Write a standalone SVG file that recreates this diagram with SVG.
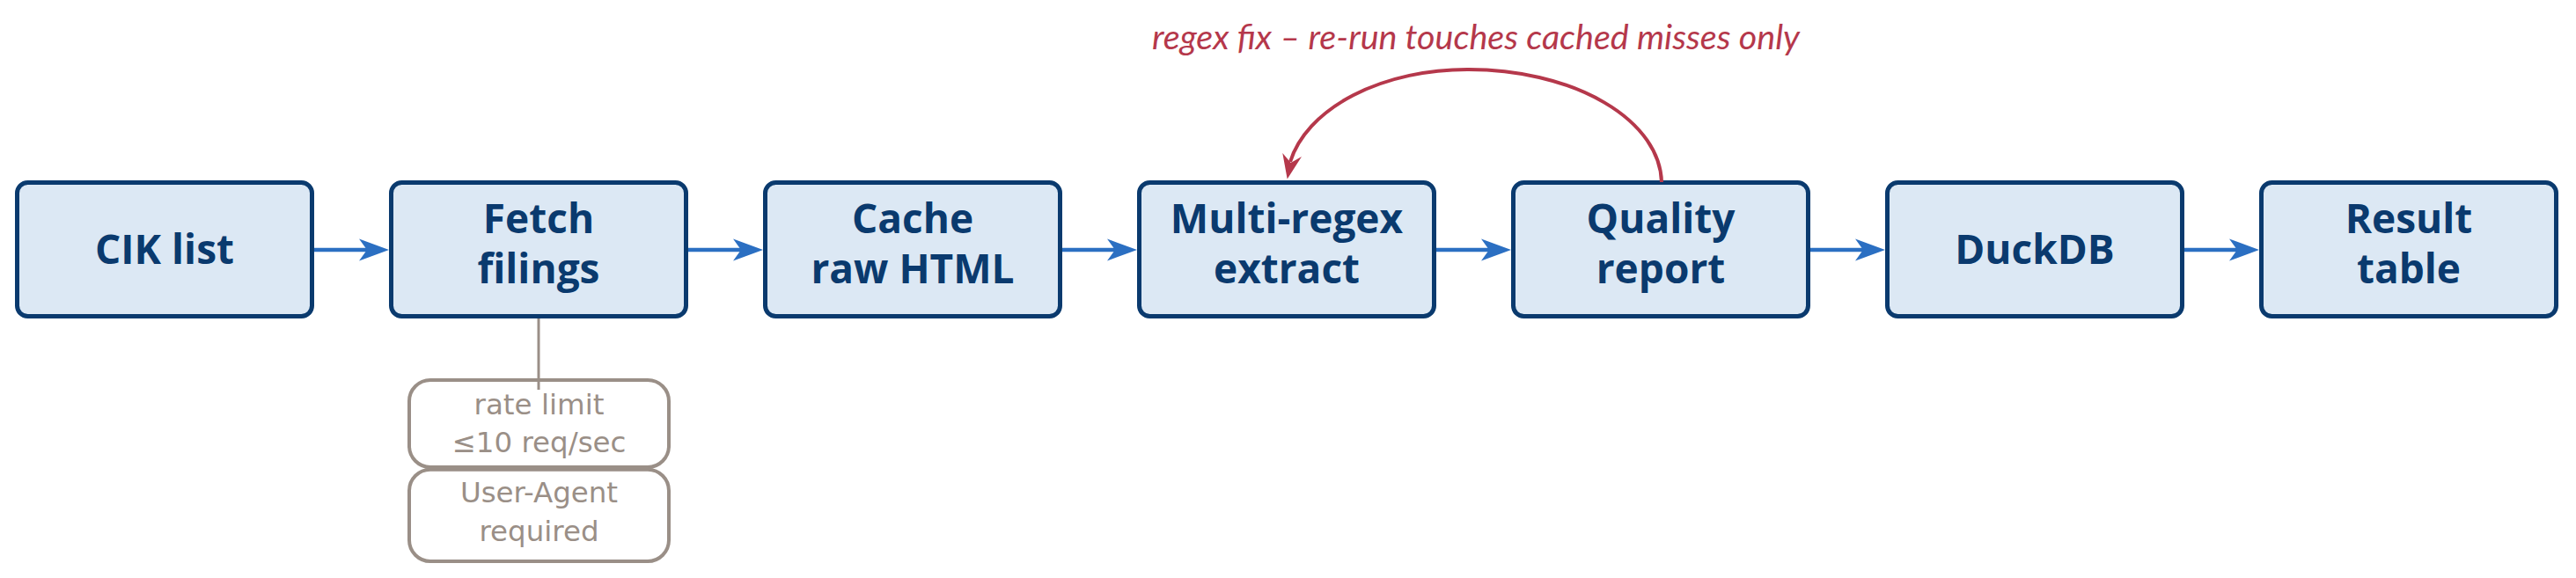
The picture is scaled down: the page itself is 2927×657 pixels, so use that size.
<svg xmlns="http://www.w3.org/2000/svg" width="2927" height="657" viewBox="0 0 2927 657">
<style>
.box{fill:#dce8f4;stroke:#0a3a6e;stroke-width:5}
.lbl{font-family:"Open Sans","DejaVu Sans",sans-serif;font-weight:bold;font-size:46px;fill:#0a3a6e;text-anchor:middle}
.note{fill:#ffffff;stroke:#9a8f87;stroke-width:4}
.ntxt{font-family:"DejaVu Sans",sans-serif;font-size:32.5px;fill:#9a8f87;text-anchor:middle}
.flow{stroke:#2b6fc2;stroke-width:4.5;fill:none}
.head{fill:#2b6fc2}
.loop{stroke:#b5384b;stroke-width:4;fill:none}
.ltxt{font-family:Lato,"Open Sans",sans-serif;font-style:italic;font-size:39.5px;fill:#b5384b;text-anchor:middle}
</style>
<rect width="2927" height="657" fill="#ffffff"/>
<g id="n1"><rect class="box" x="19.5" y="207.5" width="335" height="152" rx="12"/><text class="lbl" x="187" y="300">CIK list</text></g>
<g id="n2"><rect class="box" x="444.5" y="207.5" width="335" height="152" rx="12"/><text class="lbl" x="612" y="265">Fetch</text><text class="lbl" x="612" y="321.5">filings</text></g>
<g id="n3"><rect class="box" x="869.5" y="207.5" width="335" height="152" rx="12"/><text class="lbl" x="1037" y="265">Cache</text><text class="lbl" x="1037" y="321.5">raw HTML</text></g>
<g id="n4"><rect class="box" x="1294.5" y="207.5" width="335" height="152" rx="12"/><text class="lbl" x="1462" y="265">Multi-regex</text><text class="lbl" x="1462" y="321.5">extract</text></g>
<g id="n5"><rect class="box" x="1719.5" y="207.5" width="335" height="152" rx="12"/><text class="lbl" x="1887" y="265">Quality</text><text class="lbl" x="1887" y="321.5">report</text></g>
<g id="n6"><rect class="box" x="2144.5" y="207.5" width="335" height="152" rx="12"/><text class="lbl" x="2312" y="300">DuckDB</text></g>
<g id="n7"><rect class="box" x="2569.5" y="207.5" width="335" height="152" rx="12"/><text class="lbl" x="2737" y="265">Result</text><text class="lbl" x="2737" y="321.5">table</text></g>
<g id="note1"><rect class="note" x="465" y="432" width="295" height="99" rx="24"/><text class="ntxt" x="612.5" y="471">rate limit</text><text class="ntxt" x="612.5" y="514">≤10 req/sec</text></g>
<g id="note2"><rect class="note" x="465" y="533.7" width="295" height="104.3" rx="24"/><text class="ntxt" x="612.5" y="571">User-Agent</text><text class="ntxt" x="612.5" y="615">required</text></g>
<g id="loop-label"><text class="ltxt" x="1677" y="56">regex fix – re-run touches cached misses only</text></g>
<g id="connectors">
<path class="flow" d="M357,284H418"/><polygon class="head" points="442,284 408,271.5 417,284 408,296.5"/>
<path class="flow" d="M782,284H843"/><polygon class="head" points="867,284 833,271.5 842,284 833,296.5"/>
<path class="flow" d="M1207,284H1268"/><polygon class="head" points="1292,284 1258,271.5 1267,284 1258,296.5"/>
<path class="flow" d="M1632,284H1693"/><polygon class="head" points="1717,284 1683,271.5 1692,284 1683,296.5"/>
<path class="flow" d="M2057,284H2118"/><polygon class="head" points="2142,284 2108,271.5 2117,284 2108,296.5"/>
<path class="flow" d="M2482,284H2543"/><polygon class="head" points="2567,284 2533,271.5 2542,284 2533,296.5"/>
<path d="M612,362V443" stroke="#9a8f87" stroke-width="3" fill="none"/>
<path class="loop" d="M1888,207 A219,130 0 0 0 1669,79 A205,130 0 0 0 1466,184"/>
<polygon fill="#b5384b" points="1462.7,203.5 1457.3,174 1466.7,185 1479,178"/>
</g>
</svg>
